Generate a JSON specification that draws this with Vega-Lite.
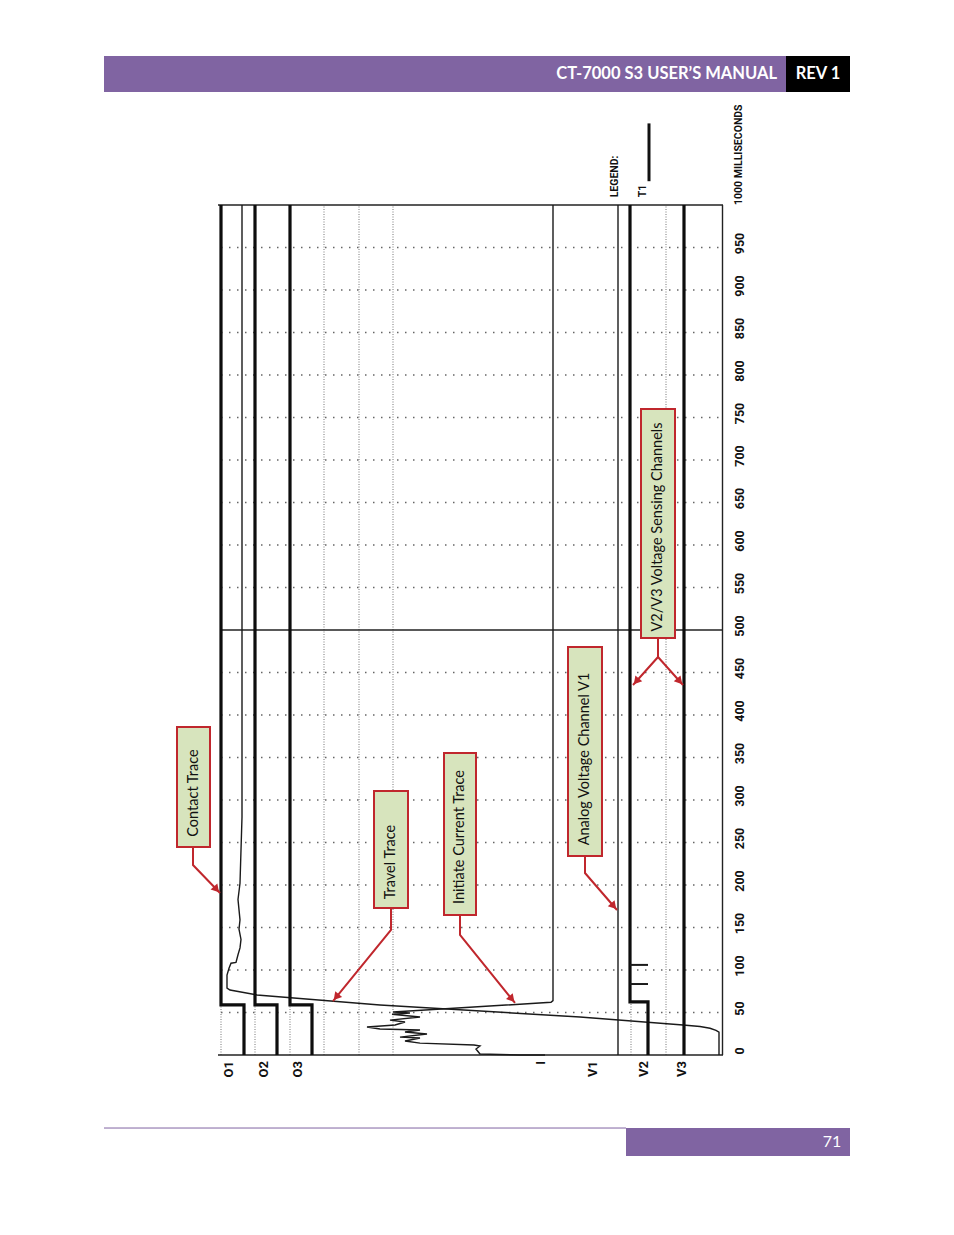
{
  "$schema": "https://vega.github.io/schema/vega-lite/v6.json",
  "description": "CT-7000 S3 manual page 71: timing record with contact, travel, initiate current and voltage channels (time runs bottom to top).",
  "width": 954,
  "height": 1235,
  "autosize": {"type": "fit", "contains": "padding"},
  "padding": 0,
  "background": "white",
  "config": {"view": {"stroke": null}},
  "datasets": {
    "traces": [
      {"s": "O1", "i": 0, "x": 221, "t": 1000}, {"s": "O1", "i": 1, "x": 221, "t": 59}, {"s": "O1", "i": 2, "x": 244, "t": 59}, {"s": "O1", "i": 3, "x": 244, "t": 0},
      {"s": "O2", "i": 0, "x": 255, "t": 1000}, {"s": "O2", "i": 1, "x": 255, "t": 59}, {"s": "O2", "i": 2, "x": 277, "t": 59}, {"s": "O2", "i": 3, "x": 277, "t": 0},
      {"s": "O3", "i": 0, "x": 290, "t": 1000}, {"s": "O3", "i": 1, "x": 290, "t": 59}, {"s": "O3", "i": 2, "x": 312, "t": 59}, {"s": "O3", "i": 3, "x": 312, "t": 0},
      {"s": "V2", "i": 0, "x": 630, "t": 1000}, {"s": "V2", "i": 1, "x": 630, "t": 62.5}, {"s": "V2", "i": 2, "x": 648, "t": 62.5}, {"s": "V2", "i": 3, "x": 648, "t": 0},
      {"s": "V3", "i": 0, "x": 684, "t": 1000}, {"s": "V3", "i": 1, "x": 684, "t": 0},
      {"s": "V1", "i": 0, "x": 618, "t": 1000}, {"s": "V1", "i": 1, "x": 618, "t": 0},
      {"s": "T1", "i": 0, "x": 719, "t": 0}, {"s": "T1", "i": 1, "x": 719, "t": 27}, {"s": "T1", "i": 2, "x": 716, "t": 29},
      {"s": "T1", "i": 3, "x": 710, "t": 31.5}, {"s": "T1", "i": 4, "x": 700, "t": 33.5}, {"s": "T1", "i": 5, "x": 683, "t": 35.3},
      {"s": "T1", "i": 6, "x": 580, "t": 44.7}, {"s": "T1", "i": 7, "x": 380, "t": 58.8}, {"s": "T1", "i": 8, "x": 257, "t": 70.6},
      {"s": "T1", "i": 9, "x": 230, "t": 76.5}, {"s": "T1", "i": 10, "x": 227, "t": 78.8}, {"s": "T1", "i": 11, "x": 227, "t": 94},
      {"s": "T1", "i": 12, "x": 229, "t": 102}, {"s": "T1", "i": 13, "x": 231, "t": 108}, {"s": "T1", "i": 14, "x": 236, "t": 109},
      {"s": "T1", "i": 15, "x": 238, "t": 118}, {"s": "T1", "i": 16, "x": 240, "t": 126}, {"s": "T1", "i": 17, "x": 241, "t": 136},
      {"s": "T1", "i": 18, "x": 239, "t": 148}, {"s": "T1", "i": 19, "x": 240, "t": 159}, {"s": "T1", "i": 20, "x": 238, "t": 183},
      {"s": "T1", "i": 21, "x": 240, "t": 202}, {"s": "T1", "i": 22, "x": 242, "t": 280}, {"s": "T1", "i": 23, "x": 242, "t": 1000},
      {"s": "I", "i": 0, "x": 545, "t": 0}, {"s": "I", "i": 1, "x": 520, "t": 0}, {"s": "I", "i": 2, "x": 480, "t": 1.2},
      {"s": "I", "i": 3, "x": 476, "t": 7}, {"s": "I", "i": 4, "x": 480, "t": 10.6}, {"s": "I", "i": 5, "x": 474, "t": 11.8},
      {"s": "I", "i": 6, "x": 420, "t": 14}, {"s": "I", "i": 7, "x": 405, "t": 16.5}, {"s": "I", "i": 8, "x": 420, "t": 20},
      {"s": "I", "i": 9, "x": 400, "t": 21}, {"s": "I", "i": 10, "x": 427, "t": 24.7}, {"s": "I", "i": 11, "x": 405, "t": 27},
      {"s": "I", "i": 12, "x": 420, "t": 29.4}, {"s": "I", "i": 13, "x": 380, "t": 30.6}, {"s": "I", "i": 14, "x": 367, "t": 33},
      {"s": "I", "i": 15, "x": 395, "t": 35.3}, {"s": "I", "i": 16, "x": 405, "t": 38.8}, {"s": "I", "i": 17, "x": 390, "t": 41},
      {"s": "I", "i": 18, "x": 420, "t": 44.7}, {"s": "I", "i": 19, "x": 392, "t": 48}, {"s": "I", "i": 20, "x": 410, "t": 49.4},
      {"s": "I", "i": 21, "x": 393, "t": 50.6}, {"s": "I", "i": 22, "x": 551, "t": 62}, {"s": "I", "i": 23, "x": 553, "t": 64},
      {"s": "I", "i": 24, "x": 553, "t": 1000}
    ],
    "hgrid": [
      {"x": 221, "x2": 720, "t": 50}, {"x": 221, "x2": 720, "t": 100}, {"x": 221, "x2": 720, "t": 150},
      {"x": 221, "x2": 720, "t": 200}, {"x": 221, "x2": 720, "t": 250}, {"x": 221, "x2": 720, "t": 300},
      {"x": 221, "x2": 720, "t": 350}, {"x": 221, "x2": 720, "t": 400}, {"x": 221, "x2": 720, "t": 450},
      {"x": 221, "x2": 720, "t": 550}, {"x": 221, "x2": 720, "t": 600}, {"x": 221, "x2": 720, "t": 650},
      {"x": 221, "x2": 720, "t": 700}, {"x": 221, "x2": 720, "t": 750}, {"x": 221, "x2": 720, "t": 800},
      {"x": 221, "x2": 720, "t": 850}, {"x": 221, "x2": 720, "t": 900}, {"x": 221, "x2": 720, "t": 950}
    ],
    "vgrid": [
      {"x": 324, "t": 0, "t2": 1000}, {"x": 359, "t": 0, "t2": 1000}, {"x": 393, "t": 0, "t2": 1000}, {"x": 666, "t": 0, "t2": 1000},
      {"x": 221, "t": 0, "t2": 59}, {"x": 255, "t": 0, "t2": 59}, {"x": 290, "t": 0, "t2": 59}, {"x": 631, "t": 0, "t2": 62.5}
    ],
    "frame": [
      {"x": 218, "x2": 723, "t": 1000, "t2": 1000},
      {"x": 218, "x2": 723, "t": 0, "t2": 0},
      {"x": 722.5, "x2": 722.5, "t": 0, "t2": 1000},
      {"x": 220, "x2": 723, "t": 500, "t2": 500}
    ],
    "ticks": [
      {"x": 740, "t": 0, "label": "0"}, {"x": 740, "t": 50, "label": "50"}, {"x": 740, "t": 100, "label": "100"},
      {"x": 740, "t": 150, "label": "150"}, {"x": 740, "t": 200, "label": "200"}, {"x": 740, "t": 250, "label": "250"},
      {"x": 740, "t": 300, "label": "300"}, {"x": 740, "t": 350, "label": "350"}, {"x": 740, "t": 400, "label": "400"},
      {"x": 740, "t": 450, "label": "450"}, {"x": 740, "t": 500, "label": "500"}, {"x": 740, "t": 550, "label": "550"},
      {"x": 740, "t": 600, "label": "600"}, {"x": 740, "t": 650, "label": "650"}, {"x": 740, "t": 700, "label": "700"},
      {"x": 740, "t": 750, "label": "750"}, {"x": 740, "t": 800, "label": "800"}, {"x": 740, "t": 850, "label": "850"},
      {"x": 740, "t": 900, "label": "900"}, {"x": 740, "t": 950, "label": "950"}
    ],
    "channels": [
      {"label": "O1", "x": 229, "t": -7}, {"label": "O2", "x": 264, "t": -7}, {"label": "O3", "x": 298, "t": -7},
      {"label": "I", "x": 541, "t": -7}, {"label": "V1", "x": 593, "t": -7}, {"label": "V2", "x": 644, "t": -7},
      {"label": "V3", "x": 682, "t": -7}
    ],
    "arrows": [
      {"a": "c1", "i": 0, "x": 193, "t": 244.7}, {"a": "c1", "i": 1, "x": 193, "t": 223.5}, {"a": "c1", "i": 2, "x": 220, "t": 190.6},
      {"a": "c2", "i": 0, "x": 391, "t": 173}, {"a": "c2", "i": 1, "x": 391, "t": 147.1}, {"a": "c2", "i": 2, "x": 333, "t": 63.5},
      {"a": "c3", "i": 0, "x": 460, "t": 164.7}, {"a": "c3", "i": 1, "x": 460, "t": 141.2}, {"a": "c3", "i": 2, "x": 515, "t": 61.2},
      {"a": "c4", "i": 0, "x": 585, "t": 234.1}, {"a": "c4", "i": 1, "x": 585, "t": 214.1}, {"a": "c4", "i": 2, "x": 617, "t": 170.6},
      {"a": "c5", "i": 0, "x": 658, "t": 490.6}, {"a": "c5", "i": 1, "x": 658, "t": 468.2}, {"a": "c5", "i": 2, "x": 633, "t": 435.3},
      {"a": "c6", "i": 0, "x": 658, "t": 468.2}, {"a": "c6", "i": 1, "x": 683, "t": 435.3}
    ],
    "boxes": [
      {"label": "Contact Trace", "x": 177, "x2": 210, "t": 385.9, "t2": 244.7, "xc": 193.5, "tc": 308.2},
      {"label": "Travel Trace", "x": 374, "x2": 408, "t": 310.6, "t2": 173, "xc": 391, "tc": 227},
      {"label": "Initiate Current Trace", "x": 444, "x2": 476, "t": 355.3, "t2": 164.7, "xc": 460, "tc": 256.5},
      {"label": "Analog Voltage Channel V1", "x": 568, "x2": 602, "t": 480, "t2": 234.1, "xc": 585, "tc": 348.2},
      {"label": "V2/V3 Voltage Sensing Channels", "x": 641, "x2": 675, "t": 760, "t2": 490.6, "xc": 658, "tc": 621.2}
    ]
  },
  "encoding": {
    "x": {"field": "x", "type": "quantitative", "scale": {"domain": [0, 954], "nice": false, "zero": false}, "axis": null},
    "y": {"field": "t", "type": "quantitative", "scale": {"domain": [-211.76, 1241.18], "nice": false, "zero": false}, "axis": null}
  },
  "layer": [
    {
      "data": {"values": [{"x": 104, "x2": 786, "t": 1175.3, "t2": 1132.9}, {"x": 626, "x2": 850, "t": -85.9, "t2": -118.8}]},
      "mark": {"type": "rect", "color": "#8064a2"},
      "encoding": {"x2": {"field": "x2"}, "y2": {"field": "t2"}}
    },
    {
      "data": {"values": [{"x": 786, "x2": 850, "t": 1175.3, "t2": 1132.9}]},
      "mark": {"type": "rect", "color": "#000000"},
      "encoding": {"x2": {"field": "x2"}, "y2": {"field": "t2"}}
    },
    {
      "data": {"values": [{"x": 104, "x2": 626, "t": -85.9, "t2": -85.9}]},
      "mark": {"type": "rule", "color": "#8064a2", "strokeWidth": 1},
      "encoding": {"x2": {"field": "x2"}, "y2": {"field": "t2"}}
    },
    {
      "data": {"values": [{"x": 777, "t": 1154.1, "label": "CT-7000 S3 USER’S MANUAL"}]},
      "mark": {"type": "text", "align": "right", "baseline": "middle", "font": "Lato", "fontWeight": "bold", "fontSize": 16.5, "color": "white"},
      "encoding": {"text": {"field": "label"}}
    },
    {
      "data": {"values": [{"x": 818, "t": 1154.1, "label": "REV 1"}]},
      "mark": {"type": "text", "align": "center", "baseline": "middle", "font": "Lato", "fontWeight": "bold", "fontSize": 16.5, "color": "white"},
      "encoding": {"text": {"field": "label"}}
    },
    {
      "data": {"values": [{"x": 832, "t": -102.4, "label": "71"}]},
      "mark": {"type": "text", "align": "center", "baseline": "middle", "font": "Lato", "fontSize": 16, "color": "white"},
      "encoding": {"text": {"field": "label"}}
    },
    {
      "data": {"name": "hgrid"},
      "mark": {"type": "rule", "color": "#666666", "strokeWidth": 1.3, "strokeDash": [1.5, 6.5]},
      "encoding": {"x2": {"field": "x2"}}
    },
    {
      "data": {"name": "vgrid"},
      "mark": {"type": "rule", "color": "#777777", "strokeWidth": 1, "strokeDash": [1, 1.5]},
      "encoding": {"y2": {"field": "t2"}}
    },
    {
      "data": {"name": "frame"},
      "mark": {"type": "rule", "color": "#222222", "strokeWidth": 1.4},
      "encoding": {"x2": {"field": "x2"}, "y2": {"field": "t2"}}
    },
    {
      "data": {"name": "traces"},
      "transform": [{"filter": {"field": "s", "oneOf": ["T1", "I", "V1"]}}],
      "mark": {"type": "line", "color": "#1a1a1a", "strokeWidth": 1.4},
      "encoding": {"detail": {"field": "s"}, "order": {"field": "i"}}
    },
    {
      "data": {"name": "traces"},
      "transform": [{"filter": {"field": "s", "oneOf": ["O1", "O2", "O3", "V2", "V3"]}}],
      "mark": {"type": "line", "color": "#0d0d0d", "strokeWidth": 3.2, "strokeJoin": "miter"},
      "encoding": {"detail": {"field": "s"}, "order": {"field": "i"}}
    },
    {
      "data": {"values": [{"x": 630, "x2": 648, "t": 83.5}, {"x": 630, "x2": 648, "t": 106}]},
      "mark": {"type": "rule", "color": "#1a1a1a", "strokeWidth": 2},
      "encoding": {"x2": {"field": "x2"}}
    },
    {
      "data": {"name": "ticks"},
      "mark": {"type": "text", "angle": 270, "align": "center", "baseline": "middle", "dx": 4, "font": "Roboto", "fontWeight": "bold", "fontSize": 12.5, "color": "#111111"},
      "encoding": {"text": {"field": "label"}}
    },
    {
      "data": {"values": [{"x": 739, "t": 1000, "label": "1000 MILLISECONDS"}]},
      "mark": {"type": "text", "angle": 270, "align": "left", "baseline": "middle", "font": "Roboto", "fontWeight": "bold", "fontSize": 10.5, "color": "#111111"},
      "encoding": {"text": {"field": "label"}}
    },
    {
      "data": {"name": "channels"},
      "mark": {"type": "text", "angle": 270, "align": "right", "baseline": "middle", "font": "Roboto", "fontSize": 13, "fontWeight": "bold", "color": "#111111"},
      "encoding": {"text": {"field": "label"}}
    },
    {
      "data": {"values": [{"x": 615, "t": 1009, "label": "LEGEND:"}, {"x": 643, "t": 1009, "label": "T1"}]},
      "mark": {"type": "text", "angle": 270, "align": "left", "baseline": "middle", "font": "Roboto", "fontWeight": "bold", "fontSize": 10.5, "color": "#111111"},
      "encoding": {"text": {"field": "label"}}
    },
    {
      "data": {"values": [{"x": 649, "t": 1028, "t2": 1096}]},
      "mark": {"type": "rule", "color": "#111111", "strokeWidth": 3},
      "encoding": {"y2": {"field": "t2"}}
    },
    {
      "data": {"name": "arrows"},
      "mark": {"type": "line", "color": "#c0272d", "strokeWidth": 2},
      "encoding": {"detail": {"field": "a"}, "order": {"field": "i"}}
    },
    {
      "data": {"values": [{"x": 216.5, "t": 194.8}, {"x": 511.9, "t": 65.8}, {"x": 613.7, "t": 175.1}, {"x": 679.7, "t": 439.6}]},
      "mark": {"type": "point", "shape": "triangle-up", "filled": true, "size": 80, "angle": 139, "color": "#c0272d", "opacity": 1},
      "encoding": {}
    },
    {
      "data": {"values": [{"x": 336.2, "t": 68.1}, {"x": 636.3, "t": 439.6}]},
      "mark": {"type": "point", "shape": "triangle-up", "filled": true, "size": 80, "angle": 220, "color": "#c0272d", "opacity": 1},
      "encoding": {}
    },
    {
      "data": {"name": "boxes"},
      "mark": {"type": "rect", "fill": "#d7e4bd", "stroke": "#c0272d", "strokeWidth": 2},
      "encoding": {"x2": {"field": "x2"}, "y2": {"field": "t2"}}
    },
    {
      "data": {"name": "boxes"},
      "mark": {"type": "text", "angle": 270, "align": "center", "baseline": "middle", "font": "Lato", "fontSize": 14.5, "color": "#111111"},
      "encoding": {"x": {"field": "xc"}, "y": {"field": "tc"}, "text": {"field": "label"}}
    }
  ]
}
